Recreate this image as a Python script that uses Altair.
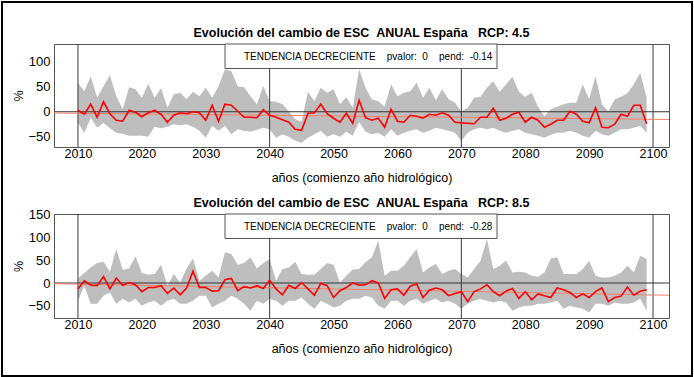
import re
import altair as alt
import pandas as pd

FONT = "Liberation Sans"

years = list(range(2010, 2100))

# RCP 4.5 -- ensemble mean, max and min (% change)
mean_45 = [3, -5, 15, -11, 20, -4, -17, -19, 3, -1,
           -10, -2, 3, -5, -21, -7, -2, -4, 0, -2,
           -17, 13, -19, 15, 13, 1, -11, -11, -12, 4,
           -7, -11, -16, -21, -35, -37, -3, -2, 15, -4,
           -13, -21, -3, -23, 23, -12, -17, -13, -31, 5,
           -19, -21, -7, -9, -13, -5, -7, -2, -7, -21,
           -22, -23, -24, -11, -11, 7, -17, -13, -5, -1,
           -21, -11, -17, -31, -25, -17, -17, 1, -5, -19,
           -22, 8, -31, -32, -25, -5, -9, 13, 13, -24]
upper_45 = [58, 41, 71, 28, 51, 73, 31, 5, 49, 45,
            28, 56, 28, 47, 8, 35, 38, 25, 40, 31,
            48, 28, 51, 85, 81, 51, 49, 31, 15, 51,
            21, 20, 15, 1, -15, -20, 40, 21, 48, 38,
            45, 15, 29, 8, 85, 48, 25, 21, 10, 55,
            31, 38, 41, 58, 28, 48, 23, 45, 25, 18,
            1, 8, 28, 30, 48, 61, 40, 55, 70, 40,
            30, 38, 10, -9, 5, 10, 15, 18, 18, 55,
            25, 71, 15, 1, 25, 30, 37, 55, 78, 28]
lower_45 = [-22, -42, -12, -32, -22, -33, -42, -44, -48, -48,
            -48, -50, -30, -33, -30, -25, -27, -25, -30, -38,
            -52, -28, -38, -28, -45, -35, -38, -40, -36, -32,
            -35, -52, -45, -50, -58, -62, -52, -45, -38, -50,
            -45, -50, -40, -48, -20, -40, -45, -42, -50, -35,
            -48, -42, -38, -35, -42, -38, -32, -35, -38, -42,
            -58, -42, -35, -32, -35, -32, -38, -42, -38, -35,
            -42, -45, -48, -52, -46, -42, -42, -38, -42, -48,
            -52, -38, -45, -48, -42, -35, -35, -32, -28, -42]

# RCP 8.5
mean_85 = [-13, 5, -5, -6, 14, -13, 11, -5, 1, -4,
           -19, -10, -10, -6, -23, -11, -26, -11, 26, -10,
           -10, -18, -17, 7, 10, -17, -8, -11, -6, -12,
           6, -13, -26, -5, -12, 1, -13, -27, -1, -6,
           -32, -17, -10, 0, -5, -4, 5, 0, -34, -15,
           -13, -27, -7, -2, -32, -16, -11, -15, -28, -23,
           -19, -41, -19, -13, -4, -19, -28, -18, -12, -34,
           -19, -37, -24, -28, -32, -11, -15, -21, -32, -24,
           -32, -19, -11, -41, -32, -29, -9, -27, -18, -15]
upper_85 = [10, 22, 34, 44, 47, 25, 75, 29, 32, 59,
            22, 18, 20, 40, -6, 20, 1, 32, 54, 5,
            16, 27, 12, 68, 64, 40, 44, 57, 32, 44,
            53, 5, 31, 34, 47, 20, 18, 18, 31, 44,
            40, 1, 16, 30, 31, 46, 57, 93, 16, 27,
            27, 38, 57, 75, 23, 34, 42, 20, 27, 31,
            20, 12, 31, 49, 97, 31, 38, 49, 23, 25,
            23, 16, 14, 23, 54, 57, 20, 20, 20, 31,
            49, 16, 12, 12, 16, 23, 38, 23, 60, 53]
lower_85 = [-39, -6, -46, -46, -28, -21, -46, -35, -43, -35,
            -50, -43, -39, -50, -39, -35, -46, -46, -39, -28,
            -28, -54, -46, -39, -28, -35, -46, -61, -39, -46,
            -35, -39, -50, -39, -39, -32, -46, -57, -39, -46,
            -54, -50, -39, -35, -35, -28, -32, -50, -57, -39,
            -39, -50, -39, -35, -46, -39, -35, -43, -39, -46,
            -57, -46, -39, -35, -39, -43, -39, -43, -61, -54,
            -50, -50, -46, -46, -43, -39, -57, -50, -54, -57,
            -65, -46, -46, -50, -43, -46, -46, -43, -35, -61]

# Linear trend line, end values at the plot edges
trend_years = [2006.25, 2102.5]
trend_45 = [-2.5, -15.5]
trend_85 = [-1.5, -27.0]

vline_years = [2010, 2040, 2070, 2100]
x_ticks = list(range(2010, 2101, 10))
y_ticks_45 = [-50, 0, 50, 100]
y_ticks_85 = [-50, 0, 50, 100, 150]

titles = ["Evolución del cambio de ESC  ANUAL España   RCP: 4.5",
          "Evolución del cambio de ESC  ANUAL España   RCP: 8.5"]
notes = ["TENDENCIA DECRECIENTE    pvalor:  0    pend:  -0.14",
         "TENDENCIA DECRECIENTE    pvalor:  0    pend:  -0.28"]
x_title = "años (comienzo año hidrológico)"
y_title = "%"


def keep_spaces(s):
    return re.sub(r" {2,}", lambda m: "\u00a0" * len(m.group()), s)


W = 615
X_DOMAIN = [2006.25, 2102.5]


def panel(mean, upper, lower, trend, title, note, ydomain, yticks, height, border=False):
    df = pd.DataFrame({"year": years, "mean": mean, "upper": upper, "lower": lower})
    xs = alt.Scale(domain=X_DOMAIN, nice=False, zero=False)
    ys = alt.Scale(domain=ydomain, nice=False, zero=False)
    xaxis = alt.Axis(values=x_ticks, format="d", grid=False, ticks=False, tickSize=0,
                     domain=False, labelFont=FONT, labelFontSize=12.5, labelColor="black",
                     labelPadding=0, labelFlush=False, title=x_title, titleFont=FONT,
                     titleFontSize=12.5, titleFontWeight="normal", titleColor="black",
                     titleX=W / 2, titleY=30, titleBaseline="middle", titleAlign="center")
    yaxis = alt.Axis(values=yticks, grid=False, ticks=False, tickSize=0, domain=False,
                     labelFont=FONT, labelFontSize=13, labelColor="black", labelPadding=4,
                     title=y_title, titleFont=FONT, titleFontSize=12.5,
                     titleFontWeight="normal", titleColor="black", titleAngle=270,
                     titleX=-36, titleY=height / 2, titleBaseline="middle",
                     titleAlign="center")
    X = lambda f: alt.X(f, type="quantitative", scale=xs, axis=xaxis)
    Y = lambda f: alt.Y(f, type="quantitative", scale=ys, axis=yaxis)

    band = alt.Chart(df).mark_area(color="#BEBEBE", opacity=1).encode(
        x=X("year"), y=Y("upper"), y2="lower")
    vlines = alt.Chart(pd.DataFrame({"year": vline_years})).mark_rule(
        color="#3a3a3a", strokeWidth=1).encode(x=X("year"))
    zero = alt.Chart(pd.DataFrame({"val": [0]})).mark_rule(
        color="#333333", strokeWidth=1).encode(y=Y("val"))
    tr = alt.Chart(pd.DataFrame({"year": trend_years, "val": trend})).mark_line(
        color="#F5806C", strokeWidth=1, clip=True).encode(x=X("year"), y=Y("val"))
    line = alt.Chart(df).mark_line(color="#FF0000", strokeWidth=1.6).encode(
        x=X("year"), y=Y("mean"))
    box = alt.Chart(pd.DataFrame({"t": [note]})).mark_rect(
        fill="white", stroke="#555555", strokeWidth=1).encode(
        x=alt.value(171), x2=alt.value(443), y=alt.value(0), y2=alt.value(24.5))
    note_t = alt.Chart(pd.DataFrame({"t": [keep_spaces(note)]})).mark_text(
        align="left", baseline="middle", font=FONT, fontSize=10, color="black").encode(
        x=alt.value(190), y=alt.value(13), text="t:N")
    title_t = alt.Chart(pd.DataFrame({"t": [keep_spaces(title)]})).mark_text(
        align="center", baseline="middle", font=FONT, fontSize=12.5, fontWeight="bold",
        color="black").encode(x=alt.value(W / 2), y=alt.value(-11), text="t:N")
    layers = [band, vlines, zero, tr, line, box, note_t, title_t]
    if border:
        frame = alt.Chart(pd.DataFrame({"t": [0]})).mark_rect(
            fill="white", fillOpacity=0, stroke="black", strokeWidth=2).encode(
            x=alt.value(-52), x2=alt.value(638), y=alt.value(-42), y2=alt.value(332))
        layers.append(frame)
    return alt.layer(*layers).properties(width=W, height=height)


p1 = panel(mean_45, upper_45, lower_45, trend_45, titles[0], notes[0],
           [-70.5, 135.5], y_ticks_45, 103, border=True)
p2 = panel(mean_85, upper_85, lower_85, trend_85, titles[1], notes[1],
           [-77.2, 152.2], y_ticks_85, 104)

chart = alt.vconcat(p1, p2, spacing=67, bounds="flush").properties(
    padding=0, background="white"
).configure_view(stroke="#555555", strokeWidth=1)

chart.save("out.html", embed_options={"renderer": "svg", "actions": False})
